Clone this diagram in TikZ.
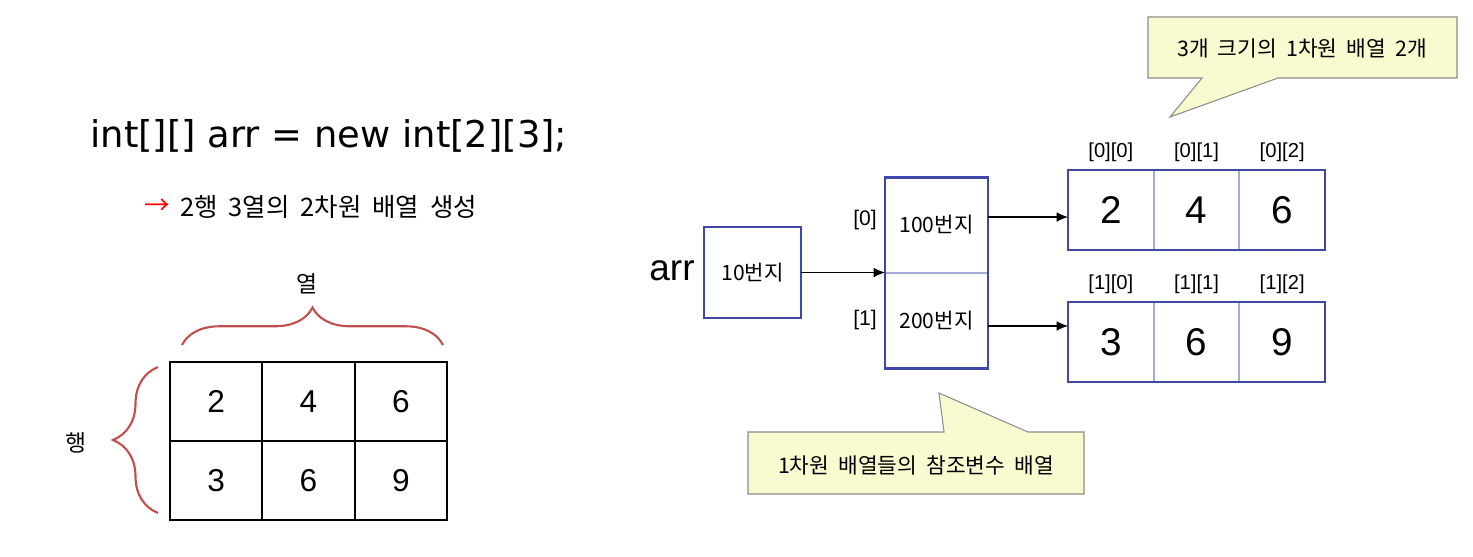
\documentclass[tikz,border=0pt]{standalone}
\usepackage{fontspec}
\setmainfont{Liberation Sans}
\newfontfamily\krfont{Noto Sans CJK KR}[WordSpace=1.9]
\newfontfamily\codefont{DejaVu Sans}
\usetikzlibrary{arrows.meta,
                calc, %for relative coord calculations
                decorations.pathreplacing, %for braces
                positioning}
\definecolor{boxblue}{RGB}{63,72,169}
\definecolor{divblue}{RGB}{165,170,218}
\definecolor{bracered}{RGB}{192,80,77}
\definecolor{notefill}{RGB}{250,250,208}
\definecolor{notedraw}{RGB}{140,140,140}

\begin{document}
\begin{tikzpicture}[x=0.02cm, y=-0.02cm,
                    gridcell/.style={draw, line width=1.2pt, minimum width=1.8467cm, minimum height=1.58cm, inner sep=0pt, outer sep=0pt, font=\fontsize{18}{20}\selectfont},
                    arrcell/.style={draw=divblue, line width=1pt, minimum width=1.7133cm, minimum height=1.6cm, inner sep=0pt, outer sep=0pt, font=\fontsize{22}{24}\selectfont},
                    refbox/.style={draw=divblue, line width=1pt, minimum width=2.06cm, minimum height=1.91cm, inner sep=0pt, outer sep=0pt, font=\krfont\fontsize{12}{14}\selectfont},
                    bluerim/.style={draw=boxblue, line width=1.5pt},
                    idx/.style={inner sep=0pt, font=\fontsize{11.5}{13}\selectfont},
                    krlabel/.style={inner sep=0pt, font=\krfont\fontsize{13}{15}\selectfont},
                    ptrarrow/.style={-{Latex[length=6.5pt,width=5.5pt]}, line width=0.6pt},
                    curly/.style={decorate, decoration={brace, amplitude=#1}, draw=bracered, line width=1.2pt},
                    note/.style={fill=notefill, draw=notedraw, line width=0.6pt},
                    notetext/.style={inner sep=0pt, font=\krfont\fontsize{12.2}{14}\selectfont}
                    ]
    \useasboundingbox (0,0) rectangle (1473,556);

    % DECLARATION %
    \node[anchor=base west, inner sep=0pt, font=\codefont\fontsize{21}{24}\selectfont] (code) at (90,147) {int[][] arr = new int[2][3];};
    \node[inner sep=0pt, font=\krfont\fontsize{14.5}{17}\selectfont, text=red] (mark) at (157,207) {→};
    \node[anchor=west, inner sep=0pt, font=\krfont\fontsize{14.5}{17}\selectfont] (desc) at (180,207) {2행 3열의 2차원 배열 생성};

    % TABLE %
    \foreach \v [count=\i from 0] in {2,4,6}
    \node[gridcell] (g0\i) at ({216.17+92.33*\i},401.5) {\v};
    \foreach \v [count=\i from 0] in {3,6,9}
    \node[gridcell] (g1\i) at ({216.17+92.33*\i},480.5) {\v};

    \draw[curly=0.75cm] (182,345) -- (443,345);
    \draw[curly=0.9cm] (158,513) -- (158,367);
    \node[krlabel] (col) at (307,284) {열};
    \node[krlabel] (row) at (76,443) {행};

    % REFERENCES %
    \node[font=\fontsize{21}{24}\selectfont, inner sep=0pt] (name) at (672,271) {arr};
    \node[draw=boxblue, line width=1.5pt, minimum width=1.94cm, minimum height=1.82cm, outer sep=0pt, font=\krfont\fontsize{12}{14}\selectfont] (ten) at (752.5,272.5) {10번지};

    \node[refbox] (ptr0) at (936.5,225) {100번지};
    \node[refbox, below=0pt of ptr0] (ptr1) {200번지};
    \draw[bluerim] (ptr0.north west) rectangle (ptr1.south east);
    \node[idx, font=\fontsize{12}{14}\selectfont] (k0) at (865,220) {[0]};
    \node[idx, font=\fontsize{12}{14}\selectfont] (k1) at (865,320) {[1]};

    % ROWS %
    \foreach \v [count=\i from 0] in {2,4,6}{
    \node[arrcell] (a0\i) at ({1110.83+85.67*\i},210) {\v};
    \node[idx, above=0.15cm of a0\i] (t0\i) {[0][\i]};
    }
    \foreach \v [count=\i from 0] in {3,6,9}{
    \node[arrcell] (a1\i) at ({1110.83+85.67*\i},342) {\v};
    \node[idx, above=0.15cm of a1\i] (t1\i) {[1][\i]};
    }
    \draw[bluerim] (a00.north west) rectangle (a02.south east);
    \draw[bluerim] (a10.north west) rectangle (a12.south east);

    % ARROWS %
    \coordinate (p0) at ([yshift=0.16cm]ptr0.east);
    \coordinate (p1) at ([yshift=-0.11cm]ptr1.east);
    \draw[ptrarrow] (ten.east) -- (ten.east -| ptr0.west);
    \draw[ptrarrow] (p0) -- (p0 -| a00.west);
    \draw[ptrarrow] (p1) -- (p1 -| a10.west);

    % NOTES %
    \draw[note] (1148,17) -- (1457,17) -- (1457,78) -- (1278,78) -- (1170,117) -- (1202,78) -- (1148,78) -- cycle;
    \node[notetext] (note1) at (1302,48) {3개 크기의 1차원 배열 2개};
    \draw[note] (748,432) -- (944,432) -- (939,393) -- (1028,432) -- (1084,432) -- (1084,494) -- (748,494) -- cycle;
    \node[notetext] (note2) at (916,465) {1차원 배열들의 참조변수 배열};

\end{tikzpicture}
\end{document}
